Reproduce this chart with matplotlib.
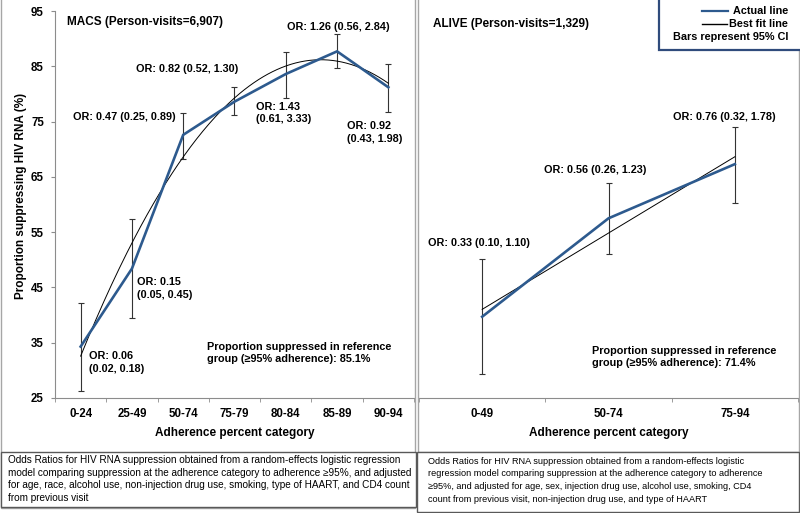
import numpy as np
import matplotlib
matplotlib.use("Agg")
import matplotlib.pyplot as plt
from matplotlib.patches import Rectangle
from matplotlib.lines import Line2D

# ---------------- data ----------------
macs_cats = ['0-24', '25-49', '50-74', '75-79', '80-84', '85-89', '90-94']
macs_prop = [34.3, 48.4, 72.6, 78.6, 83.6, 87.7, 81.2]
macs_lo = [26.3, 39.4, 68.2, 76.1, 79.2, 84.6, 76.8]
macs_hi = [42.2, 57.3, 76.5, 81.2, 87.6, 90.8, 85.5]

alive_cats = ['0-49', '50-74', '75-94']
alive_prop = [39.7, 57.5, 67.3]
alive_lo = [29.3, 51.0, 60.3]
alive_hi = [50.1, 63.9, 74.1]

yticks = [25, 35, 45, 55, 65, 75, 85, 95]

W, H = 800, 513
FONT = ['Liberation Sans', 'DejaVu Sans']
plt.rcParams['font.family'] = FONT

BLUE = '#2D5A8E'
GREY = '#8C8C8C'

fig = plt.figure(figsize=(W / 100, H / 100), dpi=100)


def fx(x):
    return x / W


def fy(y):
    return 1 - y / H


def ftext(x, y, s, size=7.8, weight='bold', ha='left', va='center', **kw):
    fig.text(fx(x), fy(y), s, fontsize=size, fontweight=weight, ha=ha, va=va, **kw)


def axes_px(x0, x1, y0, y1):
    return fig.add_axes([fx(x0), fy(y1), (x1 - x0) / W, (y1 - y0) / H])


def style_axes(ax, ncat, show_y):
    ax.set_xlim(0.5, ncat + 0.5)
    ax.set_ylim(25, 95)
    ax.patch.set_alpha(0)
    for s in ['top', 'right']:
        ax.spines[s].set_visible(False)
    ax.spines['bottom'].set_color(GREY)
    ax.spines['bottom'].set_linewidth(0.8)
    if show_y:
        ax.spines['left'].set_color(GREY)
        ax.spines['left'].set_linewidth(0.8)
        ax.set_yticks(yticks)
        ax.tick_params(axis='y', direction='out', length=3, color=GREY, pad=5,
                       labelsize=8.3)
        for lb in ax.get_yticklabels():
            lb.set_fontweight('bold')
    else:
        ax.spines['left'].set_visible(False)
        ax.set_yticks([])
    ax.set_xticks(np.arange(1, ncat + 1))
    ax.set_xticks(np.arange(0.5, ncat + 1.0, 1.0), minor=True)
    ax.tick_params(axis='x', which='major', length=0, pad=7.5, labelsize=8.3)
    ax.tick_params(axis='x', which='minor', direction='out', length=3, color=GREY)


def draw_series(ax, prop, lo, hi, deg):
    x = np.arange(1, len(prop) + 1)
    prop = np.array(prop)
    lo = np.array(lo)
    hi = np.array(hi)
    ax.errorbar(x, prop, yerr=[prop - lo, hi - prop], fmt='none', ecolor='#333333',
                elinewidth=0.8, capsize=2.5, capthick=0.8, zorder=2)
    coef = np.polyfit(x, prop, deg)
    xs = np.linspace(1, len(prop), 200)
    ax.plot(xs, np.polyval(coef, xs), color='black', lw=0.7, zorder=3)
    ax.plot(x, prop, color=BLUE, lw=1.9, zorder=4, solid_joinstyle='miter')


# ---------------- frames ----------------
def frame(x0, y0, x1, y1, ec, lw, fill=False, fc='white'):
    fig.add_artist(Rectangle((fx(x0), fy(y1)), (x1 - x0) / W, (y1 - y0) / H,
                             transform=fig.transFigure, fill=fill, fc=fc, ec=ec, lw=lw))


frame(1, -2, 415.5, 508, '#A6A6A6', 1.0)
frame(418.5, -2, 799, 452, '#A6A6A6', 1.0)

# ---------------- MACS panel ----------------
ax1 = axes_px(55, 414, 11, 398)
style_axes(ax1, len(macs_cats), True)
ax1.set_xticklabels(macs_cats, fontweight='bold')
draw_series(ax1, macs_prop, macs_lo, macs_hi, 2)

ftext(67, 21.7, 'MACS (Person-visits=6,907)', size=8.5)
ftext(287, 26.7, 'OR: 1.26 (0.56, 2.84)')
ftext(136, 69, 'OR: 0.82 (0.52, 1.30)')
ftext(72.7, 116.7, 'OR: 0.47 (0.25, 0.89)')
ftext(256, 106.7, 'OR: 1.43')
ftext(256, 119.2, '(0.61, 3.33)')
ftext(347, 126, 'OR: 0.92')
ftext(347, 138.5, '(0.43, 1.98)')
ftext(136.7, 282.3, 'OR: 0.15')
ftext(136.7, 295.5, '(0.05, 0.45)')
ftext(89.3, 355.7, 'OR: 0.06')
ftext(89.3, 369, '(0.02, 0.18)')
ftext(207.3, 346.7, 'Proportion suppressed in reference')
ftext(207.3, 359.5, 'group (\u226595% adherence): 85.1%')

ftext(234.5, 433, 'Adherence percent category', size=8.5, ha='center')
fig.text(fx(21), fy(196), 'Proportion suppressing HIV RNA (%)', fontsize=8.5,
         fontweight='bold', rotation=90, ha='center', va='center')

# ---------------- ALIVE panel ----------------
ax2 = axes_px(419, 798, 11, 398)
style_axes(ax2, len(alive_cats), False)
ax2.set_xticklabels(alive_cats, fontweight='bold')
draw_series(ax2, alive_prop, alive_lo, alive_hi, 1)

ftext(433.3, 24.3, 'ALIVE (Person-visits=1,329)', size=8.5)
ftext(672.7, 117.3, 'OR: 0.76 (0.32, 1.78)')
ftext(544.3, 170, 'OR: 0.56 (0.26, 1.23)')
ftext(428.3, 243.3, 'OR: 0.33 (0.10, 1.10)')
ftext(591.7, 350.7, 'Proportion suppressed in reference')
ftext(591.7, 363.5, 'group (\u226595% adherence): 71.4%')

ftext(608.5, 433, 'Adherence percent category', size=8.5, ha='center')

# ---------------- legend box ----------------
frame(658.5, -3, 803, 50, '#2F4B7C', 1.6, fill=True)
fig.add_artist(Line2D([fx(702), fx(728)], [fy(11), fy(11)], transform=fig.transFigure,
                      color=BLUE, lw=1.6))
fig.add_artist(Line2D([fx(702), fx(727)], [fy(24), fy(24)], transform=fig.transFigure,
                      color='black', lw=1.0))
ftext(788, 11, 'Actual line', ha='right')
ftext(788, 24, 'Best fit line', ha='right')
ftext(788, 36.5, 'Bars represent 95% CI', ha='right')

# ---------------- caption boxes ----------------
frame(0.5, 452, 415.5, 507, '#595959', 1.0, fill=True)
frame(416.5, 452, 799, 512, '#595959', 1.0, fill=True)

cap_left = ['Odds Ratios for HIV RNA suppression obtained from a random-effects logistic regression',
            'model comparing suppression at the adherence category to adherence \u226595%, and adjusted',
            'for age, race, alcohol use, non-injection drug use, smoking, type of HAART, and CD4 count',
            'from previous visit']
cap_right = ['Odds Ratios for HIV RNA suppression obtained from a random-effects logistic',
             'regression model comparing suppression at the adherence category to adherence',
             '\u226595%, and adjusted for age, sex, injection drug use, alcohol use, smoking, CD4',
             'count from previous visit, non-injection drug use, and type of HAART']
for i, line in enumerate(cap_left):
    ftext(8, 460 + 12.7 * i, line, size=7.2, weight='normal')
for i, line in enumerate(cap_right):
    ftext(428, 461 + 12.7 * i, line, size=6.6, weight='normal')

fig.savefig('out.png', dpi=100)
